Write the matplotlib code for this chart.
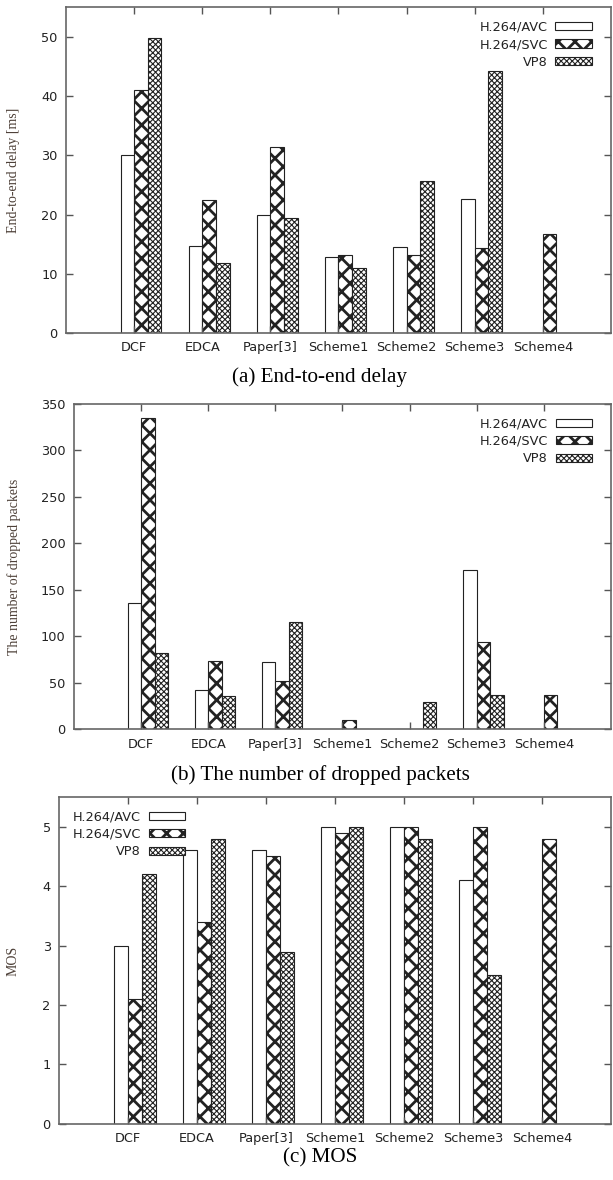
import numpy as np
import matplotlib
matplotlib.use("Agg")
import matplotlib.pyplot as plt

schemes = ["DCF", "EDCA", "Paper[3]", "Scheme1", "Scheme2", "Scheme3", "Scheme4"]
codecs = ["H.264/AVC", "H.264/SVC", "VP8"]

# (a) end-to-end delay [ms]
delay_avc = [30.0, 14.7, 20.0, 12.9, 14.6, 22.6, 0]
delay_svc = [41.0, 22.4, 31.4, 13.2, 13.2, 14.4, 16.7]
delay_vp8 = [49.8, 11.8, 19.5, 10.9, 25.7, 44.2, 0]

# (b) dropped packets
drop_avc = [136, 42, 72, 0, 0, 171, 0]
drop_svc = [335, 73, 52, 10, 0, 94, 37]
drop_vp8 = [82, 36, 115, 0, 29, 37, 0]

# (c) MOS
mos_avc = [3.0, 4.6, 4.6, 5.0, 5.0, 4.1, 0]
mos_svc = [2.1, 3.4, 4.5, 4.9, 5.0, 5.0, 4.8]
mos_vp8 = [4.2, 4.8, 2.9, 5.0, 4.8, 2.5, 0]

styles = [("", 0.8), ("xx", 2.0), ("xxxxxx", 0.8)]
sans = "DejaVu Sans"
serif = "Liberation Serif"

fig = plt.figure(figsize=(6.13, 11.8), dpi=100)


def panel(rect, series, ylim, yticks, ylabel, label_x, legend_loc, legend_anchor):
    ax = fig.add_axes(rect)
    x = np.arange(len(schemes))
    w = 0.2
    handles = []
    for i, (vals, (hatch, hlw)) in enumerate(zip(series, styles)):
        bars = ax.bar(x + (i - 0.5) * w, vals, w, facecolor="white",
                      edgecolor="#222", linewidth=0.8, hatch=hatch, label=codecs[i])
        for b in bars:
            if hasattr(b, "set_hatch_linewidth"):
                b.set_hatch_linewidth(hlw)
        handles.append(bars)
    ax.set_xlim(-1, len(schemes))
    ax.set_ylim(*ylim)
    ax.set_xticks(x)
    ax.set_xticklabels(schemes, fontsize=9.3, family=sans, color="#222")
    ax.set_yticks(yticks)
    ax.set_yticklabels([str(t) for t in yticks], fontsize=9.3, family=sans, color="#222")
    ax.tick_params(direction="in", length=5, width=1, color="#555",
                   top=True, right=True, pad=6)
    for s in ax.spines.values():
        s.set_color("#666")
        s.set_linewidth(1.2)
    ax.set_ylabel(ylabel, fontsize=10, family=serif, color="#4d4038")
    ax.yaxis.set_label_coords(label_x, 0.5)
    leg = ax.legend(handles=handles, loc=legend_loc, bbox_to_anchor=legend_anchor,
                    frameon=False, markerfirst=False, fontsize=9.3,
                    handlelength=2.8, handleheight=0.6, labelspacing=0.35,
                    handletextpad=0.6, borderaxespad=0)
    for t in leg.get_texts():
        t.set_family(sans)
        t.set_color("#222")
    for h, (hatch, hlw) in zip(leg.legend_handles, styles):
        h.set_hatch(hatch)
        if hasattr(h, "set_hatch_linewidth"):
            h.set_hatch_linewidth(hlw)
    return ax


panel([0.1077, 0.7178, 0.8890, 0.2760], [delay_avc, delay_svc, delay_vp8],
      (0, 55), [0, 10, 20, 30, 40, 50], "End-to-end delay [ms]", -0.084,
      "upper right", (0.974, 0.975))
panel([0.1207, 0.3820, 0.8760, 0.2756], [drop_avc, drop_svc, drop_vp8],
      (0, 350), [0, 50, 100, 150, 200, 250, 300, 350], "The number of dropped packets", -0.099,
      "upper right", (0.974, 0.975))
panel([0.0963, 0.0475, 0.9004, 0.2771], [mos_avc, mos_svc, mos_vp8],
      (0, 5.5), [0, 1, 2, 3, 4, 5], "MOS", -0.071,
      "upper left", (0.015, 0.975))

fig.text(0.522, 1 - 377 / 1180, "(a) End-to-end delay", ha="center", va="center",
         fontsize=15.2, family=serif)
fig.text(0.522, 1 - 775 / 1180, "(b) The number of dropped packets", ha="center", va="center",
         fontsize=15.2, family=serif)
fig.text(0.522, 1 - 1158 / 1180, "(c) MOS", ha="center", va="center",
         fontsize=15.2, family=serif)

fig.savefig("out.png", dpi=100)
